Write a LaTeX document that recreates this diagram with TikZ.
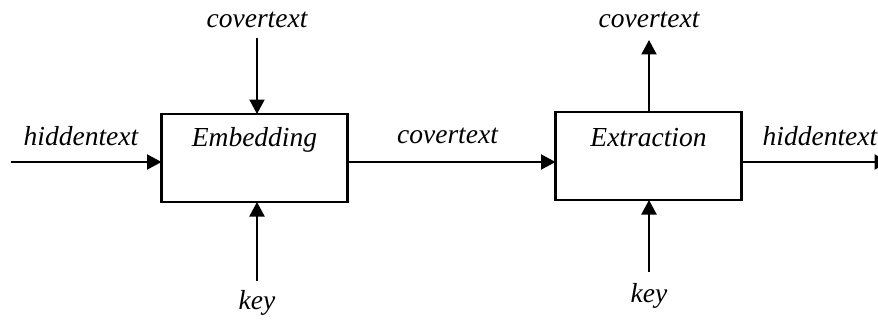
\documentclass[tikz,border=0pt]{standalone}
\usepackage{fontspec}
\setmainfont{Liberation Serif}
\usetikzlibrary{arrows.meta}
\begin{document}
\begin{tikzpicture}[x=1pt,y=-1pt,
  every node/.style={inner sep=0pt, outer sep=0pt},
  blockbox/.style={draw, line width=2.1pt, minimum width=186pt, minimum height=88pt},
  lbl/.style={font=\fontsize{27.5}{32}\selectfont\itshape},
  flow/.style={line width=2.1pt, -{Triangle[length=14.5pt,width=15pt]}}]
  \clip (0,0) rectangle (878,321);
  \useasboundingbox (0,0) rectangle (878,321);

  % processing blocks
  \node[blockbox] (emb) at (254.5,158) {};
  \node[blockbox] (ext) at (648.5,156) {};
  \node[lbl] (embT) at (254.5,140) {Embedding};
  \node[lbl] (extT) at (648.5,138) {Extraction};

  % free ends of the connectors
  \coordinate (hin)  at (11,162);
  \coordinate (hout) at (889,162);
  \coordinate (ctop) at (257,38);
  \coordinate (kemb) at (257,281);
  \coordinate (ctop2) at (649,40);
  \coordinate (kext) at (649,272);

  % labels
  \node[lbl] (lhin) at (81,136) {hiddentext};
  \node[lbl] (lmid) at (447.5,136) {covertext};
  \node[lbl] (lhout) at (820,136) {hiddentext};
  \node[lbl] (lctop) at (257,20) {covertext};
  \node[lbl] (lkemb) at (257,303) {key};
  \node[lbl] (lctop2) at (649,20) {covertext};
  \node[lbl] (lkext) at (649,296) {key};

  % connectors
  \draw[flow] (hin) -- (hin -| emb.west);
  \draw[flow] (hin -| emb.east) -- (hin -| ext.west);
  \draw[flow] (hin -| ext.east) -- (hout);
  \draw[flow] (ctop) -- (ctop |- emb.north);
  \draw[flow] (kemb) -- (kemb |- emb.south);
  \draw[flow] (ctop2 |- ext.north) -- (ctop2);
  \draw[flow] (kext) -- (kext |- ext.south);
\end{tikzpicture}
\end{document}
